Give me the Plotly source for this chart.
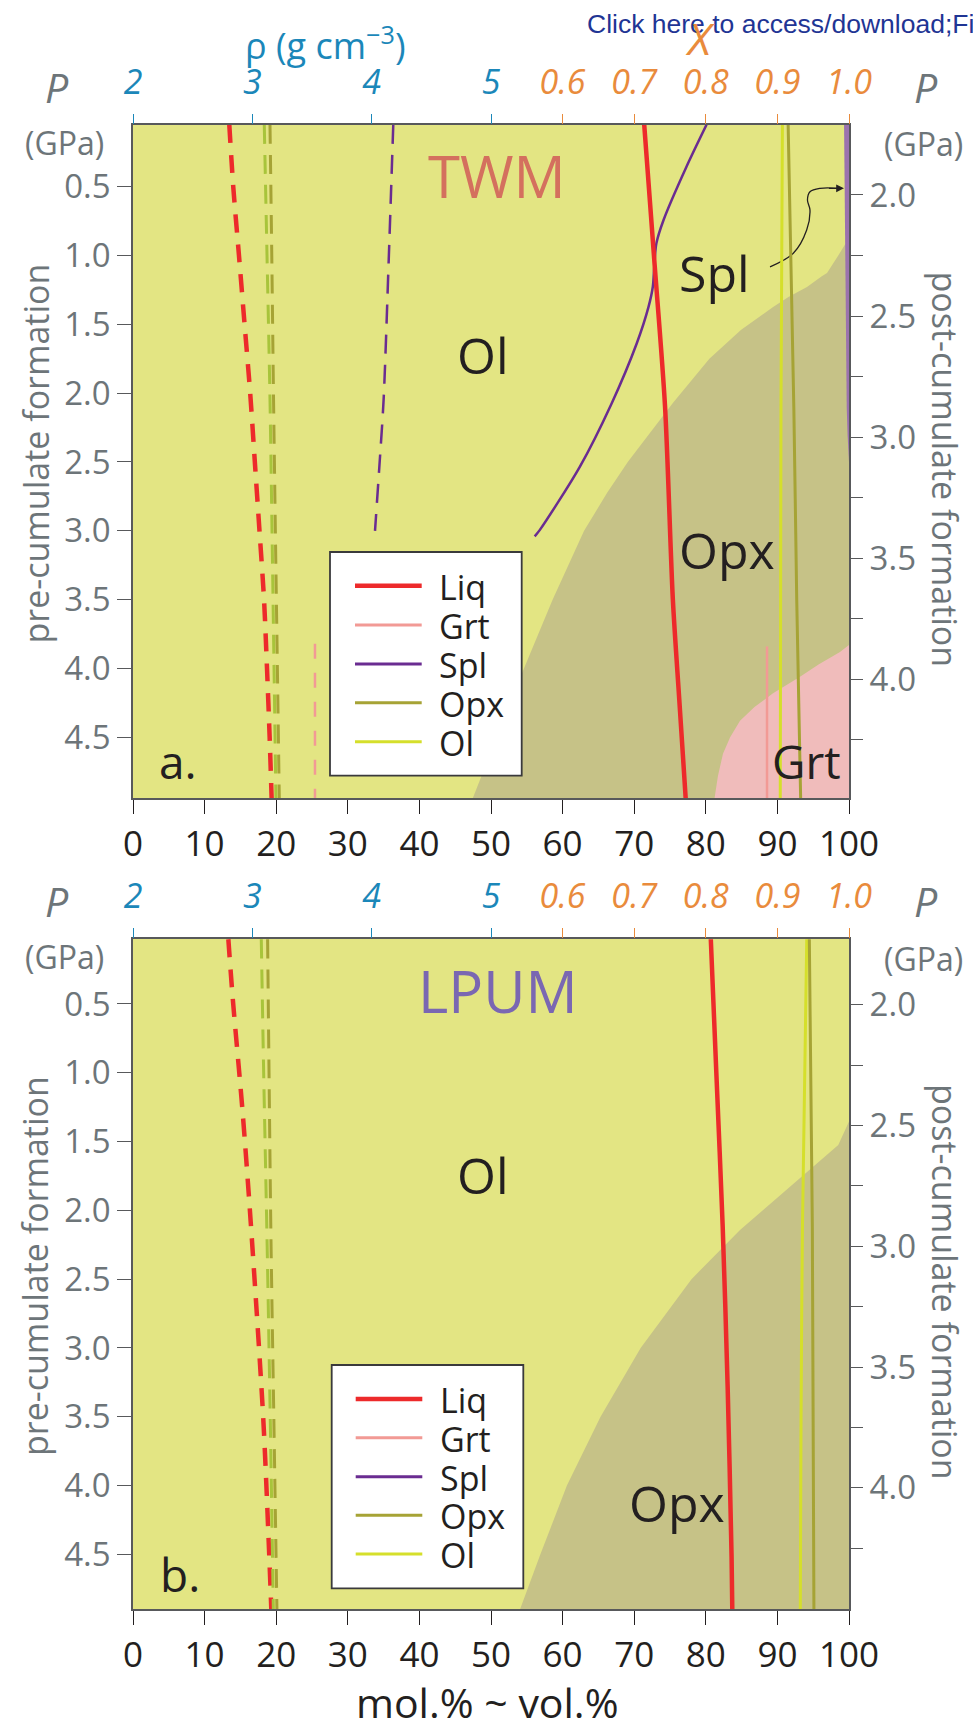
import plotly.graph_objects as go

W, H = 973, 1734

# ---------------- DATA : panel a (TWM) ----------------
# density curves (top blue axis, g cm-3) vs pre-cumulate P (GPa)
A_LIQ_RHO_P = [0.05, 0.5, 1.0, 1.5, 2.0, 2.5, 3.0, 3.5, 4.0, 4.5, 4.95]
A_LIQ_RHO = [2.807, 2.840, 2.888, 2.935, 2.982, 3.021, 3.060, 3.098, 3.123, 3.145, 3.162]
A_OL_RHO_P = [0.05, 1.0, 2.0, 3.0, 4.0, 4.95]
A_OL_RHO = [3.100, 3.123, 3.147, 3.165, 3.182, 3.198]
A_OPX_RHO = [3.148, 3.163, 3.177, 3.193, 3.210, 3.226]
A_GRT_RHO_P = [3.82, 4.95]
A_GRT_RHO = [3.525, 3.525]
A_SPL_RHO_P = [0.05, 1.03, 2.05, 2.54, 3.0]
A_SPL_RHO = [4.181, 4.143, 4.100, 4.064, 4.028]
# Mg# curves X (top orange axis)
A_LIQ_X_P = [0.05, 1.03, 2.09, 3.50, 4.23, 4.95]
A_LIQ_X = [0.714, 0.728, 0.743, 0.754, 0.763, 0.772]
A_SPL_X_P = [0.05, 0.355, 0.742, 0.912, 1.082, 1.227, 1.373, 1.639, 2.08, 2.535, 2.995, 3.04]
A_SPL_X = [0.801, 0.773, 0.741, 0.731, 0.728, 0.726, 0.720, 0.7035, 0.668, 0.624, 0.568, 0.561]
A_OL_X_P = [0.05, 2.1, 4.95]
A_OL_X = [0.907, 0.905, 0.904]
A_OPX_X_P = [0.05, 2.12, 3.50, 4.95]
A_OPX_X = [0.915, 0.923, 0.927, 0.9325]
A_GRT_X_P = [3.84, 4.95]
A_GRT_X = [0.8855, 0.8855]
# phase-field boundaries (mol.%)
A_OPX_BND_P = [0.873, 0.924, 0.982, 1.0, 1.128, 1.15, 1.229, 1.3, 1.375, 1.5, 1.542, 1.75, 2.0, 2.072, 2.392, 2.5, 2.726, 3.0, 3.5, 4.0, 4.5, 4.95]
A_OPX_BND = [100, 99.44, 98.74, 98.5, 96.93, 96.2, 94.13, 91.6, 89.4, 85.9, 84.9, 80.5, 76.5, 75.4, 70.7, 69.1, 66.2, 63.0, 58.6, 54.6, 50.8, 47.4]
A_GRT_BND_P = [3.83, 3.88, 3.97, 4.06, 4.18, 4.28, 4.38, 4.50, 4.62, 4.78, 4.95]
A_GRT_BND = [100, 98.74, 95.8, 93.16, 89.39, 86.8, 84.78, 83.4, 82.4, 81.7, 81.2]
A_SPL_BND_P = [0.0, 1.0, 2.1, 2.3, 2.5]
A_SPL_BND = [99.3, 99.45, 99.68, 99.8, 100]

# ---------------- DATA : panel b (LPUM) ----------------
B_LIQ_RHO_P = [0.03, 0.45, 1.29, 2.08, 3.52, 4.47, 4.90]
B_LIQ_RHO = [2.799, 2.835, 2.919, 2.986, 3.092, 3.140, 3.159]
B_OL_RHO_P = [0.03, 1.0, 2.2, 3.5, 4.9]
B_OL_RHO = [3.075, 3.095, 3.123, 3.150, 3.176]
B_OPX_RHO = [3.128, 3.140, 3.156, 3.180, 3.206]
B_LIQ_X_P = [0.03, 1.0, 2.12, 3.28, 4.52, 4.90]
B_LIQ_X = [0.807, 0.8147, 0.8236, 0.8305, 0.836, 0.837]
B_OL_X_P = [0.03, 2.12, 3.52, 4.90]
B_OL_X = [0.941, 0.935, 0.933, 0.932]
B_OPX_X_P = [0.03, 2.12, 4.90]
B_OPX_X = [0.9446, 0.9488, 0.951]
B_OPX_BND_P = [1.355, 1.525, 1.828, 2.142, 2.5, 3.0, 3.5, 4.0, 4.5, 4.90]
B_OPX_BND = [100, 98.5, 91.76, 84.78, 78.0, 70.9, 65.3, 60.6, 56.9, 54.05]

# axis ticks / labels
MOL_TICKS = list(range(0, 101, 10))
RHO_TICKS = [2, 3, 4, 5]
X_TICKS = [0.6, 0.7, 0.8, 0.9, 1.0]
P_LEFT_TICKS = [0.5, 1.0, 1.5, 2.0, 2.5, 3.0, 3.5, 4.0, 4.5]
P_RIGHT_TICKS = [2.0, 2.25, 2.5, 2.75, 3.0, 3.25, 3.5, 3.75, 4.0, 4.25]
P_RIGHT_TEXT = ['2.0', '', '2.5', '', '3.0', '', '3.5', '', '4.0', '']
LEGEND_NAMES = ['Liq', 'Grt', 'Spl', 'Opx', 'Ol']

# ---------------- STYLE ----------------
FONT = 'Open Sans'
C_OL_BG = '#e3e583'
C_OPX_BG = '#c6c287'
C_GRT_BG = '#f0bcbb'
C_SPL_BG = '#9b72ae'
C_LIQ = '#ed2a2b'
C_GRT = '#f29a95'
C_SPL = '#6a2c91'
C_OPX = '#a6a335'
C_OL = '#d5df2b'
C_OL_D = '#a8c43b'
C_BLUE = '#1b87b9'
C_ORANGE = '#e98b3c'
C_GRAY = '#6d7579'
C_FRAME = '#58595b'
C_TXT = '#231f20'
LEG_COLORS = [C_LIQ, C_GRT, C_SPL, C_OPX, C_OL]
LEG_WIDTHS = [4.5, 3, 3, 3, 3]

X_DOM = [133 / W, 849 / W]
PANELS = {
    'a': dict(dom=[1 - 798 / H, 1 - 125 / H], pl=[4.941, 0.052], pr=[4.49, 1.711],
              ax=['x', 'y', 'x2', 'x3', 'y2'], top=125, bot=798),
    'b': dict(dom=[1 - 1609 / H, 1 - 939 / H], pl=[4.897, 0.028], pr=[4.502, 1.727],
              ax=['x4', 'y3', 'x5', 'x6', 'y4'], top=939, bot=1609),
}

fig = go.Figure()


def line(x, y, xa, ya, color, width, dash='solid'):
    fig.add_trace(go.Scatter(x=x, y=y, xaxis=xa, yaxis=ya, mode='lines',
                             line=dict(color=color, width=width, dash=dash,
                                       shape='spline', smoothing=0.8),
                             showlegend=False, hoverinfo='skip'))


def area(bx, by, xa, ya, color, close_x, close_y):
    fig.add_trace(go.Scatter(x=list(bx) + close_x, y=list(by) + close_y, xaxis=xa, yaxis=ya,
                             mode='lines', fill='toself', fillcolor=color,
                             line=dict(width=0, color=color), showlegend=False, hoverinfo='skip'))


DASH_L = '18px,12px'
DASH_S = '19px,11px'

# ---- panel a ----
xa, ya, xr, xx, yr = PANELS['a']['ax']
area(A_OPX_BND, A_OPX_BND_P, xa, ya, C_OPX_BG, [40, 100, 100], [6, 6, 0.873])
area(A_GRT_BND, A_GRT_BND_P, xa, ya, C_GRT_BG, [80, 100, 100], [6, 6, 3.83])
area(A_SPL_BND, A_SPL_BND_P, xa, ya, C_SPL_BG, [100, 100], [2.5, -1])
fig.add_trace(go.Scatter(x=[], y=[], xaxis=xa, yaxis=yr, showlegend=False))
line(A_LIQ_RHO, A_LIQ_RHO_P, xr, ya, C_LIQ, 4.5, DASH_L)
line(A_OL_RHO, A_OL_RHO_P, xr, ya, C_OL_D, 3, DASH_S)
line(A_OPX_RHO, A_OL_RHO_P, xr, ya, C_OPX, 3, DASH_S)
line(A_GRT_RHO, A_GRT_RHO_P, xr, ya, C_GRT, 2.5, '15px,14px')
line(A_SPL_RHO, A_SPL_RHO_P, xr, ya, C_SPL, 2.5, DASH_S)
line(A_GRT_X, A_GRT_X_P, xx, ya, C_GRT, 2.5)
line(A_OL_X, A_OL_X_P, xx, ya, C_OL, 3)
line(A_OPX_X, A_OPX_X_P, xx, ya, C_OPX, 3)
line(A_SPL_X, A_SPL_X_P, xx, ya, C_SPL, 2.5)
line(A_LIQ_X, A_LIQ_X_P, xx, ya, C_LIQ, 4.5)

# ---- panel b ----
xa, ya, xr, xx, yr = PANELS['b']['ax']
area(B_OPX_BND, B_OPX_BND_P, xa, ya, C_OPX_BG, [40, 100, 100], [6, 6, 1.355])
fig.add_trace(go.Scatter(x=[], y=[], xaxis=xa, yaxis=yr, showlegend=False))
line(B_LIQ_RHO, B_LIQ_RHO_P, xr, ya, C_LIQ, 4.5, DASH_L)
line(B_OL_RHO, B_OL_RHO_P, xr, ya, C_OL_D, 3, DASH_S)
line(B_OPX_RHO, B_OL_RHO_P, xr, ya, C_OPX, 3, DASH_S)
line(B_OL_X, B_OL_X_P, xx, ya, C_OL, 3)
line(B_OPX_X, B_OPX_X_P, xx, ya, C_OPX, 3)
line(B_LIQ_X, B_LIQ_X_P, xx, ya, C_LIQ, 4.5)

# ---- axes ----
layout_axes = {}


def nm(a):
    return a[0] + 'axis' + a[1:]


for key, p in PANELS.items():
    xa, ya, xr, xx, yr = p['ax']
    layout_axes[nm(xa)] = dict(domain=X_DOM, anchor=ya, range=[0, 100], tickvals=MOL_TICKS,
                               showline=True, mirror=True, linecolor=C_FRAME, linewidth=1.5,
                               ticks='outside', ticklen=14, tickwidth=1.2, tickcolor=C_TXT,
                               tickfont=dict(family=FONT, size=35, color=C_TXT),
                               showgrid=False, zeroline=False, automargin=False)
    layout_axes[nm(ya)] = dict(domain=p['dom'], anchor=xa, range=p['pl'], tickvals=P_LEFT_TICKS,
                               ticktext=['%.1f' % v for v in P_LEFT_TICKS],
                               showline=True, mirror=True, linecolor=C_FRAME, linewidth=1.5,
                               ticks='outside', ticklen=14, tickwidth=1.2, tickcolor=C_FRAME,
                               tickfont=dict(family=FONT, size=33, color=C_GRAY),
                               showgrid=False, zeroline=False, automargin=False)
    layout_axes[nm(xr)] = dict(overlaying=xa, anchor=ya, side='top', range=[2, 8],
                               tickvals=RHO_TICKS, ticktext=[str(v) for v in RHO_TICKS],
                               showline=False, ticks='outside', ticklen=10, tickwidth=1.2,
                               tickcolor=C_BLUE, ticklabelstandoff=6,
                               tickfont=dict(family=FONT, size=34, color=C_BLUE, style='italic'),
                               showgrid=False, zeroline=False, automargin=False)
    layout_axes[nm(xx)] = dict(overlaying=xa, anchor=ya, side='top', range=[0, 1],
                               tickvals=X_TICKS, ticktext=['%.1f' % v for v in X_TICKS],
                               showline=False, ticks='outside', ticklen=10, tickwidth=1.2,
                               tickcolor=C_ORANGE, ticklabelstandoff=6,
                               tickfont=dict(family=FONT, size=34, color=C_ORANGE, style='italic'),
                               showgrid=False, zeroline=False, automargin=False)
    layout_axes[nm(yr)] = dict(overlaying=ya, anchor=xa, side='right', range=p['pr'],
                               tickvals=P_RIGHT_TICKS, ticktext=P_RIGHT_TEXT,
                               showline=False, ticks='outside', ticklen=13, tickwidth=1.2,
                               tickcolor=C_FRAME,
                               tickfont=dict(family=FONT, size=33, color=C_GRAY),
                               showgrid=False, zeroline=False, automargin=False)

annotations = []
shapes = []


def pxx(x):
    return x / W


def pyy(y):
    return 1 - y / H


def ann(text, x, y, size, color, xref='paper', yref='paper', xanchor='center',
        yanchor='middle', angle=0, italic=False, family=FONT):
    annotations.append(dict(text=text, x=x, y=y, xref=xref, yref=yref, showarrow=False,
                            xanchor=xanchor, yanchor=yanchor, textangle=angle,
                            font=dict(family=family, size=size, color=color,
                                      style='italic' if italic else 'normal')))


# header link text
ann('Click here to access/download;Fi', pxx(585), pyy(24), 26.5, '#1f3594', xanchor='left',
    family='Liberation Sans')
ann('ρ (g cm<sup>−3</sup>)', pxx(325), pyy(44), 36, C_BLUE)
ann('X', pxx(700), pyy(38), 44, C_ORANGE, italic=True)

for key, p in PANELS.items():
    top = p['top']
    mid = (p['top'] + p['bot']) / 2
    ann('P', pxx(57), pyy(top - 38), 41, C_GRAY, italic=True)
    ann('P', pxx(926), pyy(top - 38), 41, C_GRAY, italic=True)
    ann('(GPa)', pxx(64), pyy(top + 17), 32, C_GRAY)
    ann('(GPa)', pxx(923), pyy(top + 19), 32, C_GRAY)
    ann('pre-cumulate formation', pxx(35), pyy(mid - 8), 34, C_GRAY, angle=-90)
    ann('post-cumulate formation', pxx(945), pyy(mid + 8), 34, C_GRAY, angle=90)

ann('mol.% ~ vol.%', pxx(487), pyy(1702), 41, C_TXT)

# in-panel labels (data coordinates)
ann('TWM', 50.8, 0.42, 58, '#d4705e', 'x', 'y')
ann('Ol', 48.9, 1.72, 50, C_TXT, 'x', 'y')
ann('Spl', 81.2, 1.13, 50, C_TXT, 'x', 'y')
ann('Opx', 83.0, 3.14, 50, C_TXT, 'x', 'y')
ann('Grt', 94.1, 4.67, 46, C_TXT, 'x', 'y')
ann('a.', 6.3, 4.67, 46, C_TXT, 'x', 'y')
ann('LPUM', 51.0, 0.40, 58, '#7a67b2', 'x4', 'y3')
ann('Ol', 48.9, 1.74, 50, C_TXT, 'x4', 'y3')
ann('Opx', 76.0, 4.13, 50, C_TXT, 'x4', 'y3')
ann('b.', 6.6, 4.64, 46, C_TXT, 'x4', 'y3')

# curved arrow pointing at the thin spinel field (panel a)
ARROW_X = [88.97, 92.22, 94.09, 94.55, 94.2, 94.55, 95.95, 98.6]
ARROW_P = [1.082, 0.984, 0.815, 0.670, 0.597, 0.537, 0.512, 0.512]
fig.add_trace(go.Scatter(x=ARROW_X, y=ARROW_P, xaxis='x', yaxis='y', mode='lines',
                         line=dict(color=C_TXT, width=1.3, shape='spline'),
                         showlegend=False, hoverinfo='skip'))
annotations.append(dict(x=99.3, y=0.512, ax=97.0, ay=0.512, xref='x', yref='y', axref='x',
                        ayref='y', showarrow=True, arrowhead=2, arrowsize=1.2, arrowwidth=1.3,
                        arrowcolor=C_TXT, text=''))

# legends (drawn as boxes with line samples)
for (bx0, by0, bx1, by1, lx0, lx1, tx, ys) in [
        (330, 552, 521.7, 775.7, 355, 421.7, 436.7, [585.7, 625, 664, 702.7, 741.7]),
        (331.7, 1365, 523.3, 1588.3, 355.7, 422.3, 438.3, [1399, 1437.7, 1476.7, 1515.3, 1554])]:
    shapes.append(dict(type='rect', xref='paper', yref='paper', x0=pxx(bx0), x1=pxx(bx1),
                       y0=pyy(by1), y1=pyy(by0), fillcolor='white',
                       line=dict(color='#3a3a3c', width=1.8), layer='above'))
    for name, col, wd, yy in zip(LEGEND_NAMES, LEG_COLORS, LEG_WIDTHS, ys):
        shapes.append(dict(type='line', xref='paper', yref='paper', x0=pxx(lx0), x1=pxx(lx1),
                           y0=pyy(yy), y1=pyy(yy), line=dict(color=col, width=wd), layer='above'))
        ann(name, pxx(tx), pyy(yy + 1), 34, C_TXT, xanchor='left')

fig.update_layout(width=W, height=H, margin=dict(l=0, r=0, t=0, b=0),
                  paper_bgcolor='white', plot_bgcolor=C_OL_BG, showlegend=False,
                  annotations=annotations, shapes=shapes, **layout_axes)

fig.write_html('out.html')
